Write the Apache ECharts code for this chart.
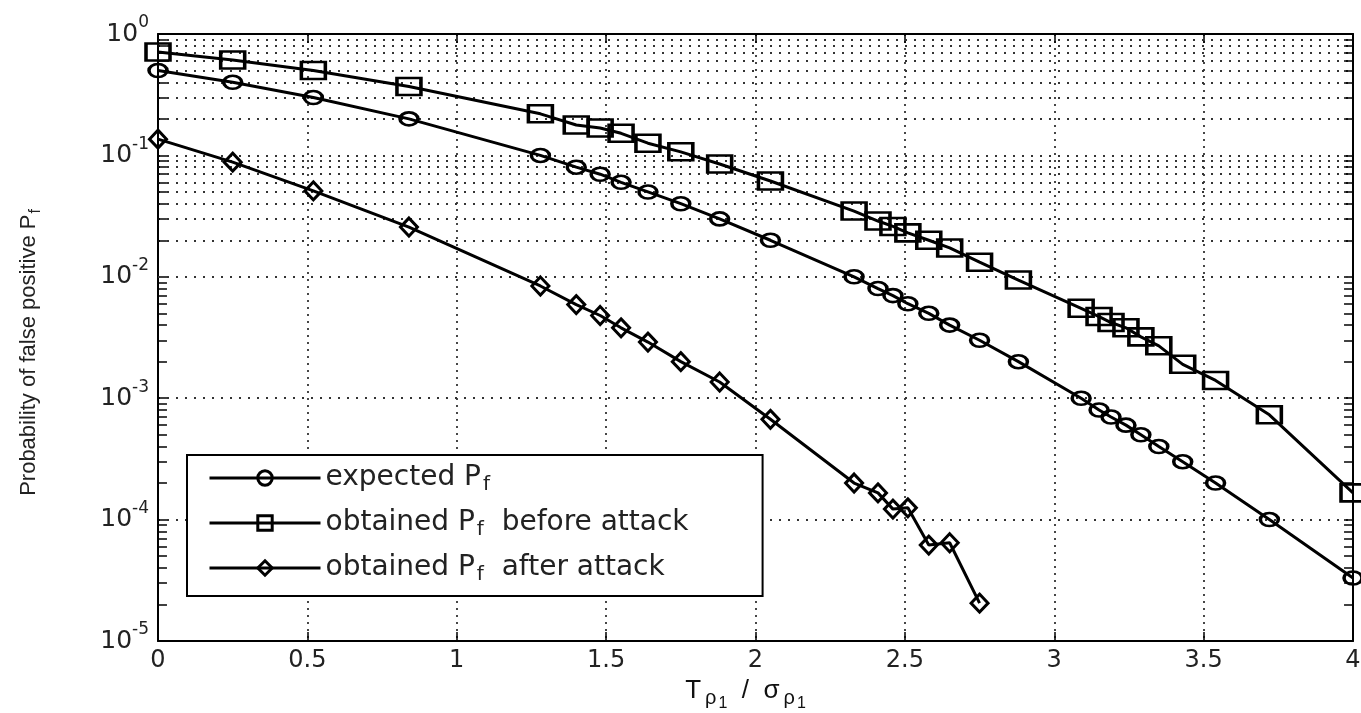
<!DOCTYPE html>
<html><head><meta charset="utf-8">
<script src="https://cdn.jsdelivr.net/npm/echarts@6/dist/echarts.min.js"></script>
<style>html,body{margin:0;padding:0;background:#fff}#c{width:1361px;height:713px}</style>
</head><body><div id="c"></div>
<script>
// ---- data ----
const xValues = [0, 0.25, 0.52, 0.84, 1.28, 1.40, 1.48, 1.55, 1.64, 1.75, 1.88, 2.05, 2.33, 2.41, 2.46, 2.51, 2.58, 2.65, 2.75, 2.88, 3.09, 3.15, 3.19, 3.24, 3.29, 3.35, 3.43, 3.54, 3.72, 4.0];
const expectedPf = [0.5, 0.4, 0.3, 0.2, 0.1, 0.08, 0.07, 0.06, 0.05, 0.04, 0.03, 0.02, 0.01, 0.008, 0.007, 0.006, 0.005, 0.004, 0.003, 0.002, 0.001, 0.0008, 0.0007, 0.0006, 0.0005, 0.0004, 0.0003, 0.0002, 0.0001, 0.000033];
const beforeAttackPf = [0.71, 0.61, 0.50, 0.37, 0.22, 0.178, 0.168, 0.152, 0.126, 0.107, 0.085, 0.0615, 0.0348, 0.0288, 0.026, 0.023, 0.020, 0.0173, 0.0132, 0.0094, 0.0055, 0.0047, 0.0042, 0.0038, 0.0032, 0.0027, 0.0019, 0.0014, 0.00073, 0.000166];
const afterAttackPf = [0.136, 0.088, 0.051, 0.0257, 0.0084, 0.0059, 0.0048, 0.0038, 0.0029, 0.0020, 0.00136, 0.00067, 0.0002, 0.000166, 0.000122, 0.000125, 0.0000617, 0.0000645, 0.0000205];
const xTickLabels = ['0', '0.5', '1', '1.5', '2', '2.5', '3', '3.5', '4'];
const decadeExps = [-5, -4, -3, -2, -1];
const minorMults = [2, 3, 4, 5, 6, 7, 8, 9];
const seriesNames = ['expected Pf', 'obtained Pf before attack', 'obtained Pf after attack'];
const legendRich = {
  'expected Pf': '{t|expected P}{sub|f}',
  'obtained Pf before attack': '{t|obtained P}{sub|f}{t|  before attack}',
  'obtained Pf after attack': '{t|obtained P}{sub|f}{t|  after attack}'
};

// ---- build ----
const pairs = (xs, ys) => ys.map((y, i) => [xs[i], y]);
const minorVals = [];
decadeExps.forEach(e => minorMults.forEach(m => minorVals.push(m * Math.pow(10, e))));
const dotted = {color: '#333', width: 1.8, type: [2, 7]};
const gridLines = minorVals.map(v => ({yAxis: v}));
const tickLen = 0.03;
const minorTicks = [];
minorVals.forEach(v => {
  minorTicks.push([{coord: [0, v]}, {coord: [tickLen, v]}]);
  minorTicks.push([{coord: [4 - tickLen, v]}, {coord: [4, v]}]);
});

const mk = (name, data, symbol, size) => ({
  name, type: 'line', data, symbol, symbolSize: size,
  lineStyle: {color: '#000', width: 3},
  itemStyle: {color: 'rgba(255,255,255,0)', borderColor: '#000', borderWidth: 3},
  emphasis: {disabled: true}, z: 3
});

const sExp = mk(seriesNames[0], pairs(xValues, expectedPf), 'circle', [18, 13]);
sExp.markLine = {
  silent: true, symbol: 'none', label: {show: false}, animation: false,
  lineStyle: dotted, z: 1,
  data: gridLines
};
const sBefore = mk(seriesNames[1], pairs(xValues, beforeAttackPf), 'rect', [24, 17]);
sBefore.markLine = {
  silent: true, symbol: 'none', label: {show: false}, animation: false,
  lineStyle: {color: '#000', width: 1.5, type: 'solid'},
  data: minorTicks
};
const sAfter = mk(seriesNames[2], pairs(xValues, afterAttackPf), 'diamond', [17, 18]);

const tickFont = 'DejaVu Sans';
const axisLine = {show: true, onZero: false, lineStyle: {color: '#000', width: 2}};
const axisTick = {show: true, inside: true, length: 9, lineStyle: {color: '#000', width: 1.5}};

const option = {
  animation: false,
  backgroundColor: '#fff',
  grid: {left: 158, top: 34, right: 8, bottom: 72, containLabel: false, outerBoundsMode: 'none'},
  legend: {
    orient: 'vertical', left: 187, top: 455,
    data: seriesNames,
    backgroundColor: '#fff', borderColor: '#000', borderWidth: 2,
    padding: [6, 74, 11, 21], itemWidth: 111, itemHeight: 18, itemGap: 11,
    selectedMode: false,
    lineStyle: {width: 3, color: '#000'},
    itemStyle: {borderWidth: 3, borderColor: '#000'},
    formatter: n => legendRich[n],
    textStyle: {
      rich: {
        t: {fontFamily: tickFont, fontSize: 28, lineHeight: 30, color: '#222'},
        sub: {fontFamily: tickFont, fontSize: 20, lineHeight: 16, color: '#222', padding: [14, 0, 0, 2]}
      }
    }
  },
  xAxis: [{
    type: 'value', min: 0, max: 4, interval: 0.5, position: 'bottom',
    axisLine, axisTick,
    axisLabel: {color: '#222', fontFamily: tickFont, fontSize: 24, margin: 8,
      formatter: v => xTickLabels[Math.round(v / 0.5)]},
    splitLine: {show: true, lineStyle: {color: '#333', width: 1.8, type: [2, 5]}},
    name: '{m|T}{s|ρ}{ss|1}{m|  /  σ}{s|ρ}{ss|1}',
    nameLocation: 'middle', nameGap: 27,
    nameTextStyle: {
      color: '#111',
      padding: [0, 20, 0, 0],
      rich: {
        m: {fontFamily: 'Liberation Sans', fontSize: 26, color: '#111'},
        s: {fontFamily: 'Liberation Sans', fontSize: 20, color: '#111', padding: [16, 0, 0, 4]},
        ss: {fontFamily: 'Liberation Sans', fontSize: 16, color: '#111', padding: [26, 0, 0, 2]}
      }
    }
  }, {
    type: 'value', min: 0, max: 4, interval: 0.5, position: 'top',
    axisLine, axisTick, axisLabel: {show: false}, splitLine: {show: false}
  }],
  yAxis: [{
    type: 'log', logBase: 10, min: 1e-5, max: 1, position: 'left',
    axisLine, axisTick,
    axisLabel: {
      margin: 9,
      formatter: v => '{b|10}{s|' + Math.round(Math.log10(v)) + '}',
      rich: {
        b: {fontFamily: tickFont, fontSize: 25, color: '#222'},
        s: {fontFamily: tickFont, fontSize: 17, color: '#222', padding: [0, 0, 22, 0]}
      }
    },
    splitLine: {show: true, lineStyle: dotted},
    minorTick: {show: false},
    name: '{n|Probability of false positive P}{f|f}',
    nameLocation: 'middle', nameGap: 114, nameRotate: 90,
    nameTextStyle: {
      padding: [0, 30, 0, 0],
      rich: {
        n: {fontFamily: 'Liberation Sans', fontSize: 22, color: '#222'},
        f: {fontFamily: 'Liberation Sans', fontSize: 16, color: '#222', padding: [15, 0, 0, 1]}
      }
    }
  }, {
    type: 'log', logBase: 10, min: 1e-5, max: 1, position: 'right',
    axisLine, axisTick, axisLabel: {show: false}, splitLine: {show: false}
  }],
  series: [sExp, sBefore, sAfter]
};
const chart = echarts.init(document.getElementById('c'));
chart.setOption(option);
</script>
</body></html>
